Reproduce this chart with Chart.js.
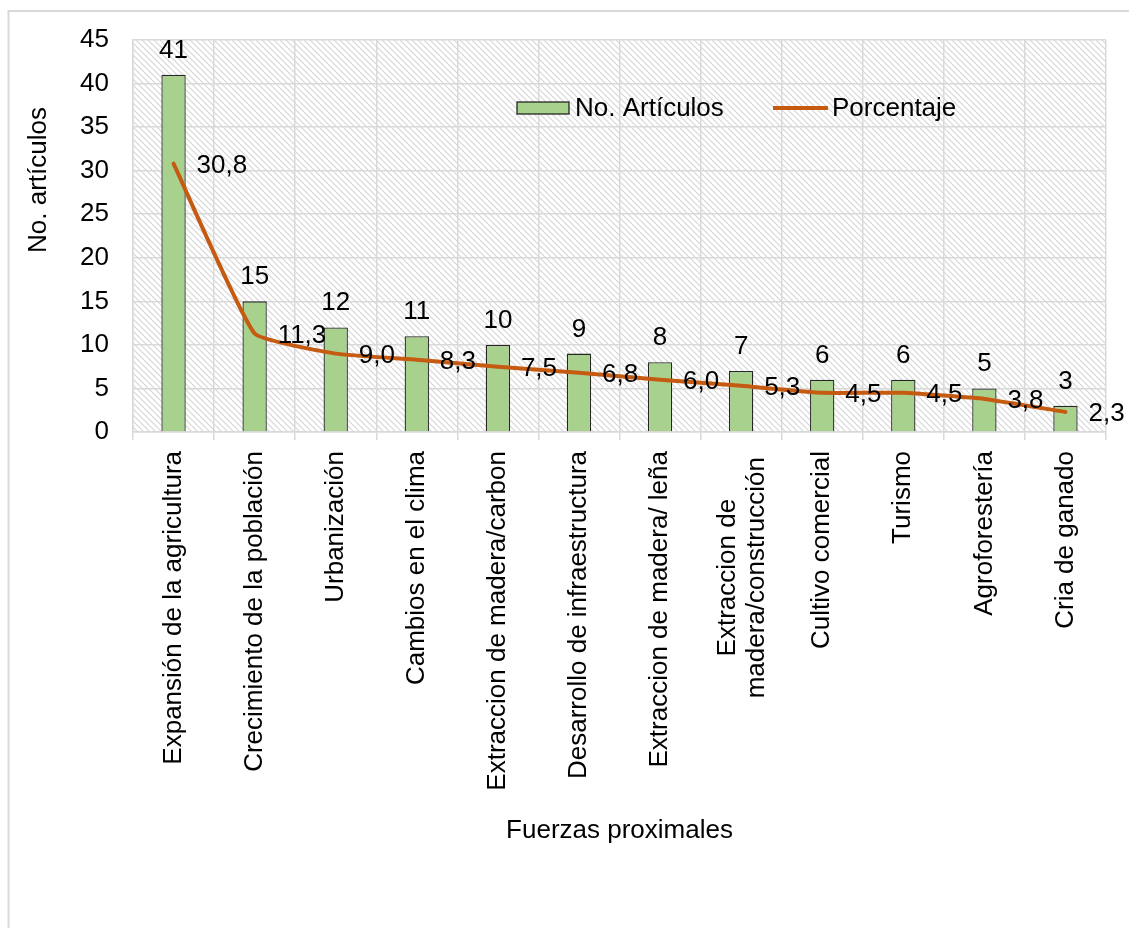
<!DOCTYPE html>
<html>
<head>
<meta charset="utf-8">
<script src="https://cdn.jsdelivr.net/npm/chart.js@4.4.1/dist/chart.umd.min.js"></script>
<style>
  html, body { margin: 0; padding: 0; background: #fff; }
  canvas { display: block; }
</style>
</head>
<body>
<canvas id="chart" width="1129" height="928"></canvas>
<script>
// Categories (proximal drivers), article counts and percentage share
const categories = [
  'Expansión de la agricultura',
  'Crecimiento de la población',
  'Urbanización',
  'Cambios en el clima',
  'Extraccion de madera/carbon',
  'Desarrollo de infraestructura',
  'Extraccion de madera/ leña',
  ['Extraccion de', 'madera/construcción'],
  'Cultivo comercial',
  'Turismo',
  'Agroforestería',
  'Cria de ganado'
];
const articulos = [41, 15, 12, 11, 10, 9, 8, 7, 6, 6, 5, 3];
const porcentaje = [30.8, 11.3, 9.0, 8.3, 7.5, 6.8, 6.0, 5.3, 4.5, 4.5, 3.8, 2.3];
const yMin = 0, yMax = 45, yStep = 5;

const FONT_FAMILY = '"Liberation Sans", Arial, Helvetica, sans-serif';
const font = { family: FONT_FAMILY, size: 26 };
const GRID = '#d9d9d9';
const BAR_FILL = '#a9d18e';
const LINE_COLOR = '#c55a11';

const fmt = v => v.toFixed(1).replace('.', ',');

// Light downward-diagonal hatch for the plot area
function makeHatch(ctx) {
  const s = 6;
  const c = document.createElement('canvas');
  c.width = s; c.height = s;
  const g = c.getContext('2d');
  g.fillStyle = '#ffffff';
  g.fillRect(0, 0, s, s);
  g.strokeStyle = '#d6d6d6';
  g.lineWidth = 1.2;
  g.beginPath();
  g.moveTo(-1, -1); g.lineTo(s + 1, s + 1);
  g.moveTo(-1, s - 1); g.lineTo(1, s + 1);
  g.moveTo(s - 1, -1); g.lineTo(s + 1, 1);
  g.stroke();
  return ctx.createPattern(c, 'repeat');
}

const decor = {
  id: 'decor',
  beforeDraw(chart) {
    const { ctx, chartArea: a, width, height } = chart;
    ctx.save();
    ctx.fillStyle = '#ffffff';
    ctx.fillRect(0, 0, width, height);
    // chart frame
    ctx.strokeStyle = GRID;
    ctx.lineWidth = 2;
    ctx.beginPath();
    ctx.moveTo(8.5, height + 5);
    ctx.lineTo(8.5, 11);
    ctx.lineTo(width + 5, 11);
    ctx.stroke();
    // plot area fill
    ctx.fillStyle = makeHatch(ctx);
    ctx.fillRect(a.left, a.top, a.right - a.left, a.bottom - a.top);
    ctx.restore();
  },
  afterDatasetsDraw(chart) {
    const ctx = chart.ctx;
    ctx.save();
    ctx.font = `26px ${FONT_FAMILY}`;
    ctx.fillStyle = '#000';
    // values above bars
    chart.getDatasetMeta(0).data.forEach((bar, i) => {
      ctx.textAlign = 'center';
      ctx.textBaseline = 'alphabetic';
      ctx.fillText(String(articulos[i]), bar.x, bar.y - 17);
    });
    // percentages to the right of the line points
    chart.getDatasetMeta(1).data.forEach((pt, i) => {
      ctx.textAlign = 'left';
      ctx.textBaseline = 'middle';
      ctx.fillText(fmt(porcentaje[i]), pt.x + 23, pt.y + 2);
    });
    ctx.restore();
  },
  afterDraw(chart) {
    const { ctx, chartArea: a } = chart;
    const xs = chart.scales.x;
    ctx.save();
    ctx.font = `26px ${FONT_FAMILY}`;
    ctx.fillStyle = '#000';

    // vertical category labels, multi-line labels centred on each other
    const lineH = 29;
    const labelTop = a.bottom + 19;
    categories.forEach((lab, i) => {
      const lines = Array.isArray(lab) ? lab : [lab];
      const x = xs.getPixelForTick(i);
      const wMax = Math.max(...lines.map(l => ctx.measureText(l).width));
      ctx.save();
      ctx.translate(x, labelTop);
      ctx.rotate(-Math.PI / 2);
      ctx.textBaseline = 'middle';
      lines.forEach((l, j) => {
        const off = (j - (lines.length - 1) / 2) * lineH + (lines.length > 1 ? 1.5 : 0);
        if (lines.length > 1) {
          ctx.textAlign = 'center';
          ctx.fillText(l, -wMax / 2 - 6, off);
        } else {
          ctx.textAlign = 'right';
          ctx.fillText(l, 0, off);
        }
      });
      ctx.restore();
    });

    // legend inside plot area
    const ly = a.top + 68;
    const bx = a.left + 384;
    ctx.fillStyle = BAR_FILL;
    ctx.fillRect(bx, ly - 6, 52, 12);
    ctx.strokeStyle = '#262626';
    ctx.lineWidth = 1.3;
    ctx.strokeRect(bx, ly - 6, 52, 12);
    ctx.fillStyle = '#000';
    ctx.textAlign = 'left';
    ctx.textBaseline = 'middle';
    ctx.fillText(chart.data.datasets[0].label, bx + 58, ly + 1);
    const lx = a.left + 640;
    ctx.strokeStyle = LINE_COLOR;
    ctx.lineWidth = 4;
    ctx.beginPath();
    ctx.moveTo(lx, ly);
    ctx.lineTo(lx + 55, ly);
    ctx.stroke();
    ctx.fillText(chart.data.datasets[1].label, lx + 59, ly + 1);

    // y axis title
    ctx.translate(39, 180);
    ctx.rotate(-Math.PI / 2);
    ctx.textAlign = 'center';
    ctx.textBaseline = 'middle';
    ctx.fillText('No. artículos', 0, 0);
    ctx.restore();
  }
};

new Chart(document.getElementById('chart'), {
  data: {
    labels: categories,
    datasets: [
      {
        type: 'bar',
        label: 'No. Artículos',
        data: articulos,
        backgroundColor: BAR_FILL,
        borderColor: '#262626',
        borderWidth: 1.3,
        barPercentage: 0.3,
        categoryPercentage: 1,
        order: 2
      },
      {
        type: 'line',
        label: 'Porcentaje',
        data: porcentaje,
        borderColor: LINE_COLOR,
        borderWidth: 4,
        borderCapStyle: 'round',
        pointRadius: 0,
        tension: 0.12,
        fill: false,
        order: 1
      }
    ]
  },
  options: {
    responsive: false,
    animation: false,
    layout: { padding: { left: 60, top: 40, right: 23, bottom: 0 } },
    plugins: { legend: { display: false }, tooltip: { enabled: false } },
    scales: {
      x: {
        grid: { color: GRID, lineWidth: 1.5, offset: true, drawTicks: true, tickLength: 8 },
        border: { color: GRID, width: 1.5 },
        ticks: { display: false, autoSkip: false },
        title: { display: true, text: 'Fuerzas proximales', color: '#000', font, padding: { top: 0, bottom: 82 } },
        afterFit(s) { s.height = 496; }
      },
      y: {
        min: yMin,
        max: yMax,
        ticks: { stepSize: yStep, padding: 24, color: '#000', font },
        grid: { color: GRID, lineWidth: 1.5, drawTicks: false },
        border: { color: GRID, width: 1.5 },
        afterFit(s) { s.width = 73; }
      }
    }
  },
  plugins: [decor]
});
</script>
</body>
</html>
